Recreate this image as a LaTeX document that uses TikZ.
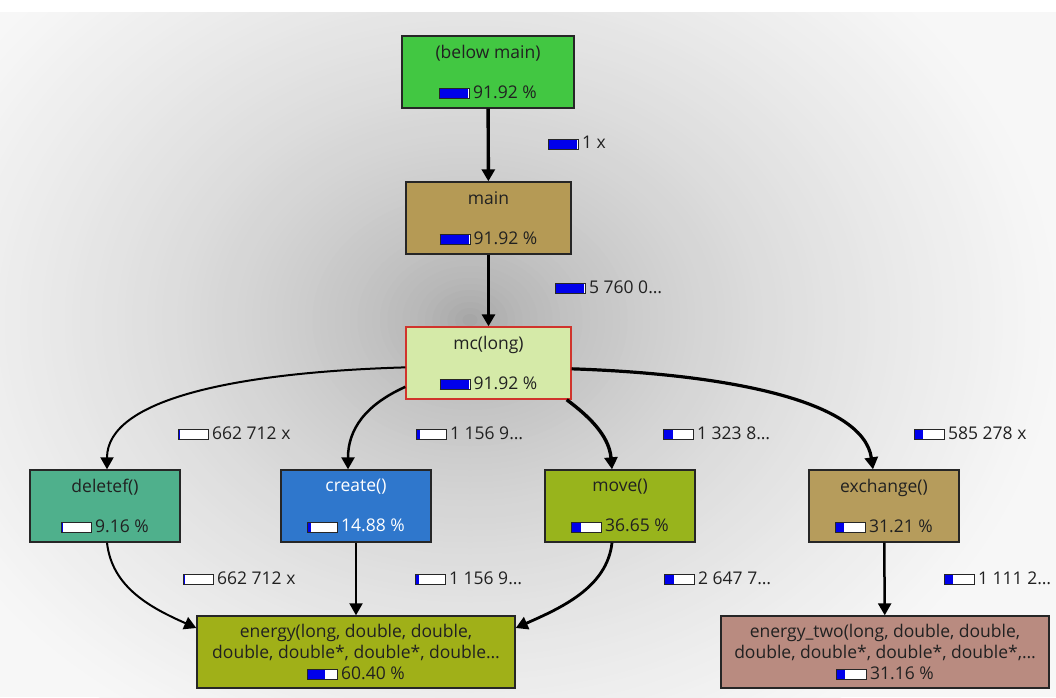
\documentclass[tikz,border=0pt]{standalone}
\usepackage{fontspec}
\setmainfont{Open Sans}
\usepackage{xcolor}
\usepackage{tikz}
\usetikzlibrary{arrows.meta}

\definecolor{cgbelow}{RGB}{66,199,66}
\definecolor{cgmain}{RGB}{181,154,85}
\definecolor{cgmc}{RGB}{213,234,168}
\definecolor{cgdel}{RGB}{79,176,140}
\definecolor{cgcreate}{RGB}{47,119,204}
\definecolor{cgmove}{RGB}{152,180,28}
\definecolor{cgexch}{RGB}{182,156,92}
\definecolor{cgenergy}{RGB}{160,176,24}
\definecolor{cgentwo}{RGB}{185,139,128}
\definecolor{cgred}{RGB}{208,52,44}
\definecolor{cgblue}{RGB}{0,0,235}
\definecolor{cgtext}{gray}{0.13}

% cost bar: argument is the blue part in pt (of 29.4)
\newcommand{\cgbar}[1]{{\setlength{\fboxsep}{0pt}\setlength{\fboxrule}{0.8pt}%
  \raisebox{0.2pt}{\fcolorbox{black!85}{white}{\makebox[29.4pt][l]{\textcolor{cgblue}{\rule{#1pt}{9.4pt}}}\rule{0pt}{9.4pt}}}}}
\newcommand{\cgfont}{\fontsize{17.5}{21}\selectfont}

\begin{document}
\begin{tikzpicture}[x=1pt,y=-1pt,
    fn/.style={draw=black!85,line width=1.4pt,minimum width=150pt,minimum height=72pt,
      inner sep=0pt,align=center,font=\cgfont,text=cgtext},
    cl/.style={anchor=west,inner sep=0pt,font=\cgfont,text=cgtext},
    call/.style={draw=black,-{Triangle[length=12pt,width=13pt]}}]
  \useasboundingbox (0,0) rectangle (1056,697);
  % background
  \fill[white] (0,0) rectangle (1056,697);
  \begin{scope}
    \clip (0,12) rectangle (1056,697);
    \fill[black!3] (0,12) rectangle (1056,697);
    \foreach \i in {80,79,...,1} {
      \pgfmathsetmacro\f{\i/80}
      \pgfmathsetmacro\k{39-36*sqrt(\f)}
      \fill[black!\k] (470,320) ellipse [x radius=600*\f, y radius=480*\f];
    }
  \end{scope}

  % functions
  \node[fn,fill=cgbelow,minimum width=172pt] (bm) at (488,72) {(below main)\\[19pt]\cgbar{28}\,91.92 \%};
  \node[fn,fill=cgmain,minimum width=165pt] (main) at (488.5,218) {main\\[19pt]\cgbar{28}\,91.92 \%};
  \node[fn,fill=cgmc,draw=cgred,minimum width=165pt] (mc) at (488.5,363) {mc(long)\\[19pt]\cgbar{28}\,91.92 \%};
  \node[fn,fill=cgdel] (del) at (105,506) {deletef()\\[19pt]\cgbar{1}\,9.16 \%};
  \node[fn,fill=cgcreate,text=white] (cre) at (356,506) {create()\\[19pt]\cgbar{2.5}\,14.88 \%};
  \node[fn,fill=cgmove] (mov) at (620,506) {move()\\[19pt]\cgbar{9}\,36.65 \%};
  \node[fn,fill=cgexch] (exc) at (884,506) {exchange()\\[19pt]\cgbar{8}\,31.21 \%};
  \node[fn,fill=cgenergy,minimum width=318pt] (en) at (356,652)
    {energy(long, double, double,\\double, double*, double*, double…\\\cgbar{17}\,60.40 \%};
  \node[fn,fill=cgentwo,minimum width=328pt] (entwo) at (885,652)
    {energy\_two(long, double, double,\\double, double*, double*, double*,…\\\cgbar{8}\,31.16 \%};

  % calls
  \draw[call,line width=3.4pt] (bm) -- (main);
  \draw[call,line width=3.4pt] (main) -- (mc);
  \draw[call,line width=2pt] (mc.183) .. controls +(-170,5) and +(0,-70) .. ([xshift=2pt]del.north);
  \draw[call,line width=2.5pt] (mc.196) .. controls +(-40,18) and +(0,-40) .. ([xshift=-8pt]cre.north);
  \draw[call,line width=3.4pt] ([xshift=-5pt]mc.south east) .. controls +(20,15) and +(-3,-35) .. ([xshift=-8pt]mov.north);
  \draw[call,line width=3.2pt] (mc.356) .. controls +(150,5) and +(-10,-70) .. ([xshift=-11pt]exc.north);
  \draw[call,line width=2pt] ([xshift=2pt]del.south) .. controls +(5,45) and +(-45,-20) .. ([yshift=24pt]en.west);
  \draw[call,line width=2pt] (cre) -- (en);
  \draw[call,line width=2.8pt] ([xshift=-8pt]mov.south) .. controls +(-5,45) and +(45,-20) .. ([yshift=24pt]en.east);
  \draw[call,line width=2.5pt] (exc) -- (entwo);

  % call counts
  \node[cl] (cbm) at (548,143) {\cgbar{28}\,1 x};
  \node[cl] (cmain) at (555,287) {\cgbar{28}\,5 760 0…};
  \node[cl] (cdel) at (178,433) {\cgbar{1}\,662 712 x};
  \node[cl] (ccre) at (416,433) {\cgbar{2.5}\,1 156 9…};
  \node[cl] (cmov) at (663,433) {\cgbar{9}\,1 323 8…};
  \node[cl] (cexc) at (914,433) {\cgbar{8}\,585 278 x};
  \node[cl] (cdelen) at (183,578) {\cgbar{1}\,662 712 x};
  \node[cl] (ccreen) at (415,578) {\cgbar{2.5}\,1 156 9…};
  \node[cl] (cmoven) at (664,578) {\cgbar{9}\,2 647 7…};
  \node[cl] (cexcen) at (944,578) {\cgbar{8}\,1 111 2…};
\end{tikzpicture}
\end{document}
